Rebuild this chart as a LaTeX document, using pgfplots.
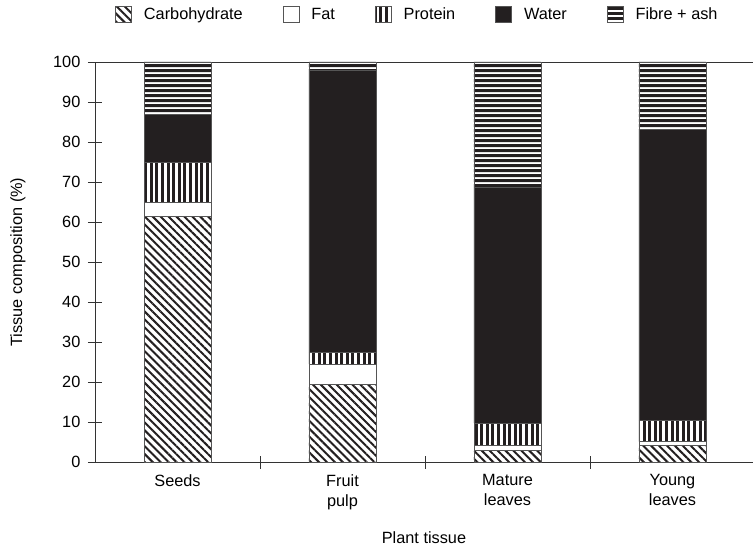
\documentclass[border=0pt]{standalone}
\usepackage{fontspec}
\setmainfont{Liberation Sans}
\usepackage{pgfplots}
\usepackage{pgfplotstable}
\pgfplotsset{compat=1.18}
\usetikzlibrary{patterns.meta}
\definecolor{ink}{HTML}{231F20}
\definecolor{edge}{HTML}{555555}
\definecolor{axc}{HTML}{333333}
\pgfplotstableread{
x carb fat protein water fibre
0 61.5 3.3 10.0 12.1 13.1
1 19.4 5.1 2.8 70.7 2.0
2 2.8 1.4 5.5 59.0 31.3
3 4.2 0.9 5.4 72.75 16.75
}\tissue
\pgfplotsset{sq legend/.style={legend image code/.code={\draw[##1,draw=edge,line width=0.7pt] (0pt,-7.5pt) rectangle (16pt,8.5pt);}}}
\newcommand\chartfont{\fontsize{16.3}{20}\selectfont}
\begin{document}
\chartfont
\begin{tikzpicture}
\useasboundingbox (-95pt,-85pt) rectangle (658pt,462pt);
\begin{axis}[
  at={(0,0)}, anchor=south west,
  scale only axis, width=658pt, height=400pt,
  xmin=-0.5, xmax=3.488, ymin=0, ymax=100,
  axis x line*=box, axis y line*=left,
  xtick pos=lower,
  axis line style={draw=axc, line width=0.8pt},
  every tick/.style={draw=axc, line width=0.8pt},
  ybar stacked, bar width=0.406,
  xtick={0,1,2,3},
  xticklabels={Seeds, Fruit\\pulp, Mature\\leaves, Young\\leaves},
  xticklabel style={align=center, font=\chartfont},
  major x tick style={draw=none},
  minor xtick={0.5,1.5,2.5},
  ytick={0,10,...,100},
  tick align=center, major tick length=14pt, minor tick length=13pt,
  yticklabel style={font=\chartfont, xshift=-2pt},
  /pgf/number format/assume math mode=true,
  ylabel={Tissue composition (\%)},
  every axis y label/.style={at={(axis description cs:-0.117,0.5)}, rotate=90, anchor=center, font=\chartfont},
  xlabel={Plant tissue},
  every axis x label/.style={at={(axis description cs:0.5,-0.19)}, anchor=center, font=\chartfont},
  legend columns=5,
  legend style={draw=none, at={(0.49,1.1175)}, anchor=center, font=\chartfont,
    /tikz/every odd column/.append style={column sep=10pt},
    /tikz/every even column/.append style={column sep=38pt}},
]
\addplot[sq legend, draw=edge, line width=0.7pt, pattern={Lines[angle=-45,distance=5.6pt,line width=2pt]}, pattern color=ink] table[x=x,y=carb]{\tissue};
\addlegendentry{Carbohydrate}
\addplot[sq legend, draw=edge, line width=0.7pt, fill=white] table[x=x,y=fat]{\tissue};
\addlegendentry{Fat}
\addplot[sq legend, draw=edge, line width=0.7pt, pattern={Lines[angle=90,distance=5.6pt,line width=3pt]}, pattern color=ink] table[x=x,y=protein]{\tissue};
\addlegendentry{Protein}
\addplot[sq legend, draw=edge, line width=0.7pt, fill=ink] table[x=x,y=water]{\tissue};
\addlegendentry{Water}
\addplot[sq legend, draw=edge, line width=0.7pt, pattern={Lines[angle=0,distance=5.4pt,line width=3.2pt]}, pattern color=ink] table[x=x,y=fibre]{\tissue};
\addlegendentry{Fibre + ash}
\end{axis}
\end{tikzpicture}
\end{document}
